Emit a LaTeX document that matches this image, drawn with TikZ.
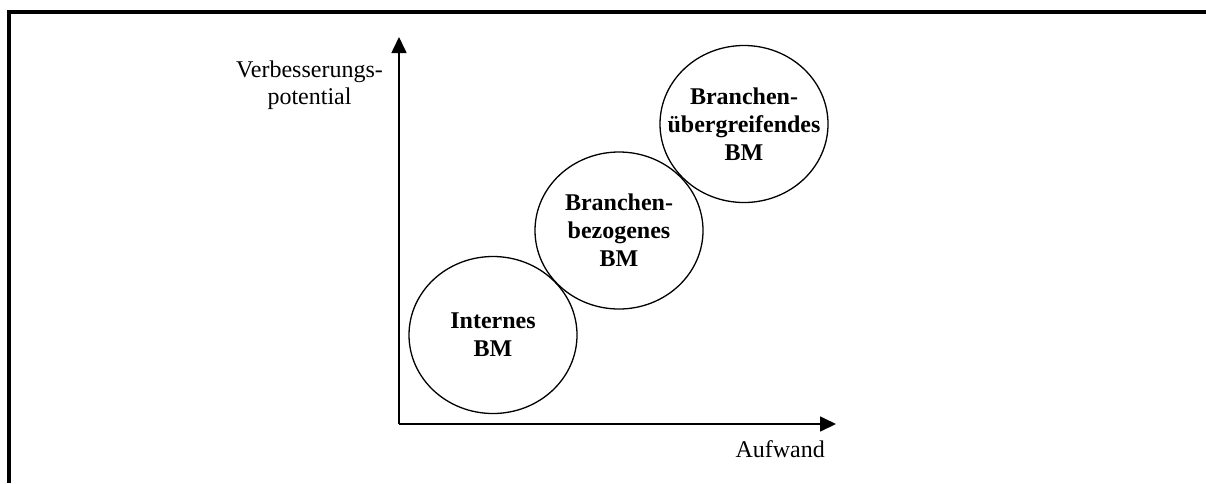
\documentclass[tikz,border=0pt]{standalone}
\usepackage{fontspec}
\setmainfont{Liberation Serif}
\usetikzlibrary{arrows.meta,shapes.geometric}
\begin{document}
\begin{tikzpicture}[x=1pt,y=-1pt,
  axis/.style={line width=1.6pt,-{Triangle[length=16pt,width=15pt]}},
  bubble/.style={draw,ellipse,line width=1.3pt,minimum width=168pt,minimum height=157pt,inner sep=0pt},
  bubtext/.style={align=center,inner sep=0pt,font=\fontsize{24}{28}\selectfont\bfseries},
  axlabel/.style={align=center,inner sep=0pt,font=\fontsize{24}{27}\selectfont}]
\useasboundingbox (0,0) rectangle (1206,483);
% frame edges
\draw[line width=4pt] (9,483) -- (9,12) -- (1206,12);
% axes
\coordinate (o) at (399,424);
\coordinate (ytip) at (399,37);
\coordinate (xtip) at (836,424);
\draw[axis] (o) -- (ytip);
\draw[axis] (o) -- (xtip);
\node[axlabel] (ylab) at (309.5,85) {Verbesserungs-\\potential};
\node[axlabel,anchor=base east] (xlab) at (825,457) {Aufwand};
% the three stages
\node[bubble] (c1) at (493,335) {};
\node[bubble] (c2) at (619,230.5) {};
\node[bubble] (c3) at (744,124) {};
\node[bubtext] (t1) at (c1) {Internes\\BM};
\node[bubtext] (t2) at (c2) {Branchen-\\bezogenes\\BM};
\node[bubtext] (t3) at (c3) {Branchen-\\übergreifendes\\BM};
\end{tikzpicture}
\end{document}
